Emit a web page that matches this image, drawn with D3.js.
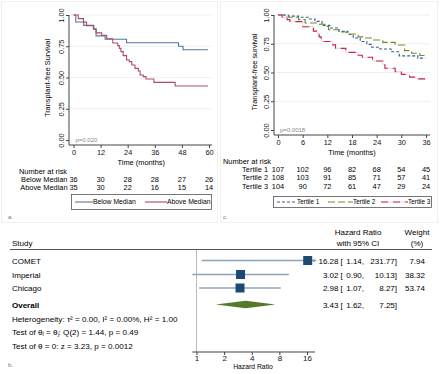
<!DOCTYPE html>
<html>
<head>
<meta charset="utf-8">
<script src="https://cdn.jsdelivr.net/npm/d3@7"></script>
<style>
  body { margin: 0; background: #fff; }
  svg { font-family: 'Liberation Sans', Arial, sans-serif; }
</style>
</head>
<body>
<div id="chart"></div>
<script>
// panel a - KM by median
const aTicksX = [0, 12, 24, 36, 48, 60]
const survTicks = [0, 0.25, 0.5, 0.75, 1]
const belowTime = [0, 1, 4.5, 9, 10, 14, 23.5, 46.5, 48.5, 59.5]
const belowSurv = [1, 0.944, 0.917, 0.889, 0.833, 0.806, 0.778, 0.75, 0.722, 0.722]
const aboveTime = [0, 2.1, 4.4, 5.8, 8.8, 10, 12.5, 14.7, 17.4, 19.6, 20.3, 21, 22, 23.5, 24.7, 25.8, 27.2, 28.7, 29.5, 30.9, 32.1, 35.6, 45, 59.5]
const aboveSurv = [1, 0.971, 0.943, 0.914, 0.886, 0.857, 0.838, 0.81, 0.776, 0.755, 0.733, 0.707, 0.675, 0.64, 0.627, 0.6, 0.573, 0.552, 0.52, 0.507, 0.488, 0.461, 0.432, 0.432]
const aRiskLabels = ['Below Median', 'Above Median']
const aRiskBelow = [36, 30, 28, 28, 27, 26]
const aRiskAbove = [35, 30, 22, 16, 15, 14]

// panel c - KM by tertile
const cTicksX = [0, 6, 12, 18, 24, 30, 36]
const t1Time = [0, 2.5, 5, 7.5, 9, 10.7, 12.6, 14.8, 17, 18.3, 20, 21.6, 22.8, 24.8, 27.5, 29.5, 34, 35.8]
const t1Surv = [1, 0.99, 0.98, 0.965, 0.945, 0.91, 0.887, 0.858, 0.83, 0.8, 0.77, 0.745, 0.72, 0.705, 0.68, 0.645, 0.625, 0.625]
const t2Time = [0, 1.5, 5, 6.6, 9.5, 11.4, 12.3, 15, 16.7, 19.5, 21, 23, 25.5, 28.5, 30.8, 32.5, 34.5, 35.8]
const t2Surv = [1, 0.98, 0.96, 0.93, 0.92, 0.9, 0.872, 0.852, 0.835, 0.81, 0.8, 0.783, 0.762, 0.739, 0.69, 0.667, 0.648, 0.648]
const t3Time = [0, 1, 2.2, 2.9, 6, 8.6, 9.5, 10, 10.5, 13.3, 14, 16.5, 19.5, 20.5, 23, 25.5, 26, 28.5, 30, 32, 33.5, 35.8]
const t3Surv = [1, 0.98, 0.96, 0.942, 0.898, 0.86, 0.84, 0.81, 0.77, 0.74, 0.71, 0.675, 0.65, 0.632, 0.6, 0.57, 0.537, 0.507, 0.484, 0.46, 0.445, 0.445]
const cRiskLabels = ['Tertile 1', 'Tertile 2', 'Tertile 3']
const cRisk1 = [107, 102, 96, 82, 68, 54, 45]
const cRisk2 = [108, 103, 91, 85, 71, 57, 41]
const cRisk3 = [104, 90, 72, 61, 47, 29, 24]

// panel b - forest plot
const studies = ['COMET', 'Imperial', 'Chicago']
const hr = [16.28, 3.02, 2.98]
const hrLo = [1.14, 0.90, 1.07]
const hrHi = [231.77, 10.13, 8.27]
const weights = [7.94, 38.32, 53.74]
const overall = [3.43, 1.62, 7.25]
const forestTicks = [1, 2, 4, 8, 16]
const statLines = [
    'Heterogeneity: τ² = 0.00, I² = 0.00%, H² = 1.00',
    'Test of θᵢ = θⱼ: Q(2) = 1.44, p = 0.49',
    'Test of θ = 0: z = 3.23, p = 0.0012'
]

const W = 440, H = 374
const fs = 7.4
const ffs = 8
const svg = d3.select('#chart').append('svg')
    .attr('width', W).attr('height', H)
    .attr('viewBox', [0, 0, W, H])

const line = (x, y) => d3.line().x(d => x(d[0])).y(d => y(d[1])).curve(d3.curveStepAfter)
const zip = (a, b) => a.map((v, i) => [v, b[i]])

// faint panel frames
svg.append('rect').attr('x', 1.5).attr('y', 1.5).attr('width', 216).attr('height', 221)
    .attr('fill', 'none').attr('stroke', '#f0f0f0')
svg.append('rect').attr('x', 220.5).attr('y', 1.5).attr('width', 217).attr('height', 221)
    .attr('fill', 'none').attr('stroke', '#f0f0f0')

const kmPanel = (opt) => {
    const g = svg.append('g')
    const x = d3.scaleLinear().domain(opt.xdom).range(opt.xr)
    const y = d3.scaleLinear().domain([0, 1]).range(opt.yr)

    // gridlines
    g.append('g').selectAll('line')
        .data(survTicks.filter(d => d > 0))
        .join('line')
        .attr('x1', opt.axisX).attr('x2', opt.gridEnd)
        .attr('y1', d => y(d)).attr('y2', d => y(d))
        .attr('stroke', '#ececec').attr('stroke-width', 0.8)

    // y axis
    const ya = g.append('g')
        .attr('transform', `translate(${opt.axisX},0)`)
        .call(d3.axisLeft(y).tickValues(survTicks).tickFormat(d3.format('.2f')).tickSize(3).tickSizeOuter(0))
    ya.select('.domain').attr('stroke', '#444')
    ya.selectAll('.tick line').attr('stroke', '#444')
    ya.selectAll('text')
        .attr('transform', 'rotate(-90)')
        .attr('x', 0).attr('y', -5).attr('dy', 0)
        .attr('text-anchor', 'middle')
        .attr('font-size', fs).attr('fill', '#111')
    ya.select('.domain').attr('d', `M0,${y(1)}V${opt.axisY}`)

    // x axis
    const xa = g.append('g')
        .attr('transform', `translate(0,${opt.axisY})`)
        .call(d3.axisBottom(x).tickValues(opt.xticks).tickSize(3).tickSizeOuter(0))
    xa.select('.domain').attr('stroke', '#444').attr('d', `M${opt.axisX},0H${opt.gridEnd}`)
    xa.selectAll('.tick line').attr('stroke', '#444')
    xa.selectAll('text').attr('font-size', fs).attr('fill', '#111').attr('dy', '0.55em')

    g.append('text').attr('x', (x(opt.xdom[0]) + x(opt.xdom[1])) / 2).attr('y', opt.axisY + 19.5)
        .attr('text-anchor', 'middle').attr('font-size', fs).text('Time (months)')
    g.append('text')
        .attr('transform', `translate(${opt.titleX},${opt.titleY}) rotate(-90)`)
        .attr('text-anchor', 'middle').attr('font-size', fs).text(opt.ytitle)

    g.append('text').attr('x', x(0) + 2).attr('y', y(0) + 2)
        .attr('font-size', 6).attr('fill', '#888').text(opt.p)

    opt.series.forEach(s => {
        if (s.under) {
            g.append('path').datum(zip(s.t, s.s))
                .attr('d', line(x, y)).attr('fill', 'none')
                .attr('stroke', s.under).attr('stroke-width', 1)
        }
        g.append('path').datum(zip(s.t, s.s))
            .attr('d', line(x, y)).attr('fill', 'none')
            .attr('stroke', s.color).attr('stroke-width', 1.1)
            .attr('stroke-dasharray', s.dash || null)
    })

    // number at risk
    g.append('text').attr('x', opt.nrX).attr('y', opt.nrY)
        .attr('font-size', fs).text('Number at risk')
    opt.risk.forEach((r, i) => {
        const ry = opt.nrY + 8.2 * (i + 1)
        g.append('text').attr('x', x(0) - opt.labelGap).attr('y', ry)
            .attr('text-anchor', 'end').attr('font-size', fs).text(opt.riskLabels[i])
        g.append('g').selectAll('text').data(r).join('text')
            .attr('x', (d, j) => x(opt.xticks[j])).attr('y', ry)
            .attr('text-anchor', 'middle').attr('font-size', fs).text(d => d)
    })

    // legend
    const lg = g.append('g')
    lg.append('rect').attr('x', opt.leg[0] + 0.5).attr('y', opt.leg[1] + 0.5)
        .attr('width', opt.leg[2]).attr('height', opt.leg[3])
        .attr('fill', '#fff').attr('stroke', '#555').attr('stroke-width', 0.8)
    const ly = opt.leg[1] + opt.leg[3] / 2 + 0.5
    opt.series.forEach((s, i) => {
        const lx = opt.legX[i], len = opt.legLen[i]
        if (s.under) {
            lg.append('line').attr('x1', lx).attr('x2', lx + len).attr('y1', ly).attr('y2', ly)
                .attr('stroke', s.under).attr('stroke-width', 1)
        }
        lg.append('line').attr('x1', lx).attr('x2', lx + len).attr('y1', ly).attr('y2', ly)
            .attr('stroke', s.color).attr('stroke-width', 1.1).attr('stroke-dasharray', s.dash || null)
        lg.append('text').attr('x', lx + len).attr('y', ly + 2.3)
            .attr('font-size', opt.legFs).text(s.name)
    })

    svg.append('text').attr('x', opt.tag[0]).attr('y', opt.tag[1])
        .attr('font-size', 6).attr('fill', '#777').text(opt.tag[2])
}

kmPanel({
    xdom: [0, 60], xr: [73.5, 209], yr: [140, 15],
    axisX: 69, axisY: 145, gridEnd: 212, xticks: aTicksX,
    titleX: 50, titleY: 78, ytitle: 'Transplant-free Survival', p: 'p=0.020',
    series: [
        {name: 'Below Median', t: belowTime, s: belowSurv, color: '#56799b'},
        {name: 'Above Median', t: aboveTime, s: aboveSurv, color: '#b04a64'}
    ],
    nrX: 19, nrY: 174, riskLabels: aRiskLabels, risk: [aRiskBelow, aRiskAbove], labelGap: 6,
    leg: [71, 194, 140, 15], legX: [75, 145], legLen: [18, 22], legFs: 6.8,
    tag: [8, 219, 'a.']
})

kmPanel({
    xdom: [0, 36], xr: [278, 426], yr: [130, 15],
    axisX: 274, axisY: 135, gridEnd: 430, xticks: cTicksX,
    titleX: 257, titleY: 72, ytitle: 'Transplant-free survival', p: 'p=0.0018',
    series: [
        {name: 'Tertile 1', t: t1Time, s: t1Surv, color: '#34608a', dash: '3,2'},
        {name: 'Tertile 2', t: t2Time, s: t2Surv, color: '#6e8b2c', dash: '7,3'},
        {name: 'Tertile 3', t: t3Time, s: t3Surv, color: '#c8254f', dash: '7,5', under: '#f1d3da'}
    ],
    nrX: 223, nrY: 164, riskLabels: cRiskLabels, risk: [cRisk1, cRisk2, cRisk3], labelGap: 10,
    leg: [273, 196, 158, 11], legX: [277, 328, 381], legLen: [20, 25, 27], legFs: 6.4,
    tag: [223, 219, 'c.']
})

// forest plot
const fx = d3.scaleLog().base(2).domain([1, 16]).range([196.5, 307])
const fxMax = 315
const rowY = [260.5, 274.5, 288]
const overallY = 304.5
const fg = svg.append('g')

fg.append('text').attr('x', 12).attr('y', 246).attr('font-size', ffs).text('Study')
fg.append('text').attr('x', 358).attr('y', 235).attr('text-anchor', 'middle').attr('font-size', ffs).text('Hazard Ratio')
fg.append('text').attr('x', 358).attr('y', 246).attr('text-anchor', 'middle').attr('font-size', ffs).text('with 95% CI')
fg.append('text').attr('x', 417).attr('y', 235).attr('text-anchor', 'middle').attr('font-size', ffs).text('Weight')
fg.append('text').attr('x', 417).attr('y', 246).attr('text-anchor', 'middle').attr('font-size', ffs).text('(%)')
fg.append('line').attr('x1', 10).attr('x2', 432).attr('y1', 249.5).attr('y2', 249.5)
    .attr('stroke', '#555').attr('stroke-width', 1)

// reference line at 1
fg.append('line').attr('x1', fx(1)).attr('x2', fx(1)).attr('y1', 250).attr('y2', 352)
    .attr('stroke', '#aaa').attr('stroke-width', 0.8)

const fa = fg.append('g').attr('transform', 'translate(0,352)')
    .call(d3.axisBottom(fx).tickValues(forestTicks).tickFormat(d3.format('d')).tickSize(3).tickSizeOuter(0))
fa.select('.domain').attr('stroke', '#444').attr('d', `M${fx(0.9)},0H${fxMax}`)
fa.selectAll('.tick line').attr('stroke', '#444')
fa.selectAll('text').attr('font-size', ffs).attr('fill', '#111').attr('dy', '0.4em')
fg.append('text').attr('x', 253).attr('y', 369).attr('text-anchor', 'middle')
    .attr('font-size', 6.8).text('Hazard Ratio')

const ciText = (y, h, lo, hi) => {
    fg.append('text').attr('x', 338.5).attr('y', y + 3).attr('text-anchor', 'end').attr('font-size', ffs).text(h.toFixed(2))
    fg.append('text').attr('x', 340.5).attr('y', y + 3).attr('font-size', ffs).text('[')
    fg.append('text').attr('x', 364).attr('y', y + 3).attr('text-anchor', 'end').attr('font-size', ffs).text(lo.toFixed(2) + ',')
    fg.append('text').attr('x', 397).attr('y', y + 3).attr('text-anchor', 'end').attr('font-size', ffs).text(hi.toFixed(2) + ']')
}

studies.forEach((s, i) => {
    const y = rowY[i]
    const x1 = fx(hrLo[i]), x2 = Math.min(fx(hrHi[i]), fxMax)
    fg.append('line').attr('x1', x1).attr('x2', x2).attr('y1', y).attr('y2', y)
        .attr('stroke', '#8ea3b6').attr('stroke-width', 1.4)
    if (fx(hrHi[i]) > fxMax) {
        fg.append('path').attr('d', `M${fxMax + 2},${y}L${fxMax - 2},${y - 1.8}L${fxMax - 2},${y + 1.8}Z`)
            .attr('fill', '#8ea3b6')
    }
    fg.append('rect').attr('x', fx(hr[i]) - 4.5).attr('y', y - 4.5)
        .attr('width', 9).attr('height', 9).attr('fill', '#1c4a74')
    fg.append('text').attr('x', 12).attr('y', y + 3).attr('font-size', ffs).text(s)
    ciText(y, hr[i], hrLo[i], hrHi[i])
    fg.append('text').attr('x', 425).attr('y', y + 3).attr('text-anchor', 'end').attr('font-size', ffs).text(weights[i].toFixed(2))
})

// overall diamond
fg.append('path')
    .attr('d', `M${fx(overall[1])},${overallY}L${fx(overall[0])},${overallY - 3.8}L${fx(overall[2])},${overallY}L${fx(overall[0])},${overallY + 3.8}Z`)
    .attr('fill', '#537a2a')
fg.append('text').attr('x', 12).attr('y', overallY + 3).attr('font-size', ffs).attr('font-weight', 'bold').text('Overall')
ciText(overallY, overall[0], overall[1], overall[2])

statLines.forEach((t, i) => {
    fg.append('text').attr('x', 12).attr('y', 321.5 + 13.5 * i).attr('font-size', 8.1).text(t)
})

svg.append('text').attr('x', 8).attr('y', 367).attr('font-size', 6).attr('fill', '#777').text('b.')
</script>
</body>
</html>
